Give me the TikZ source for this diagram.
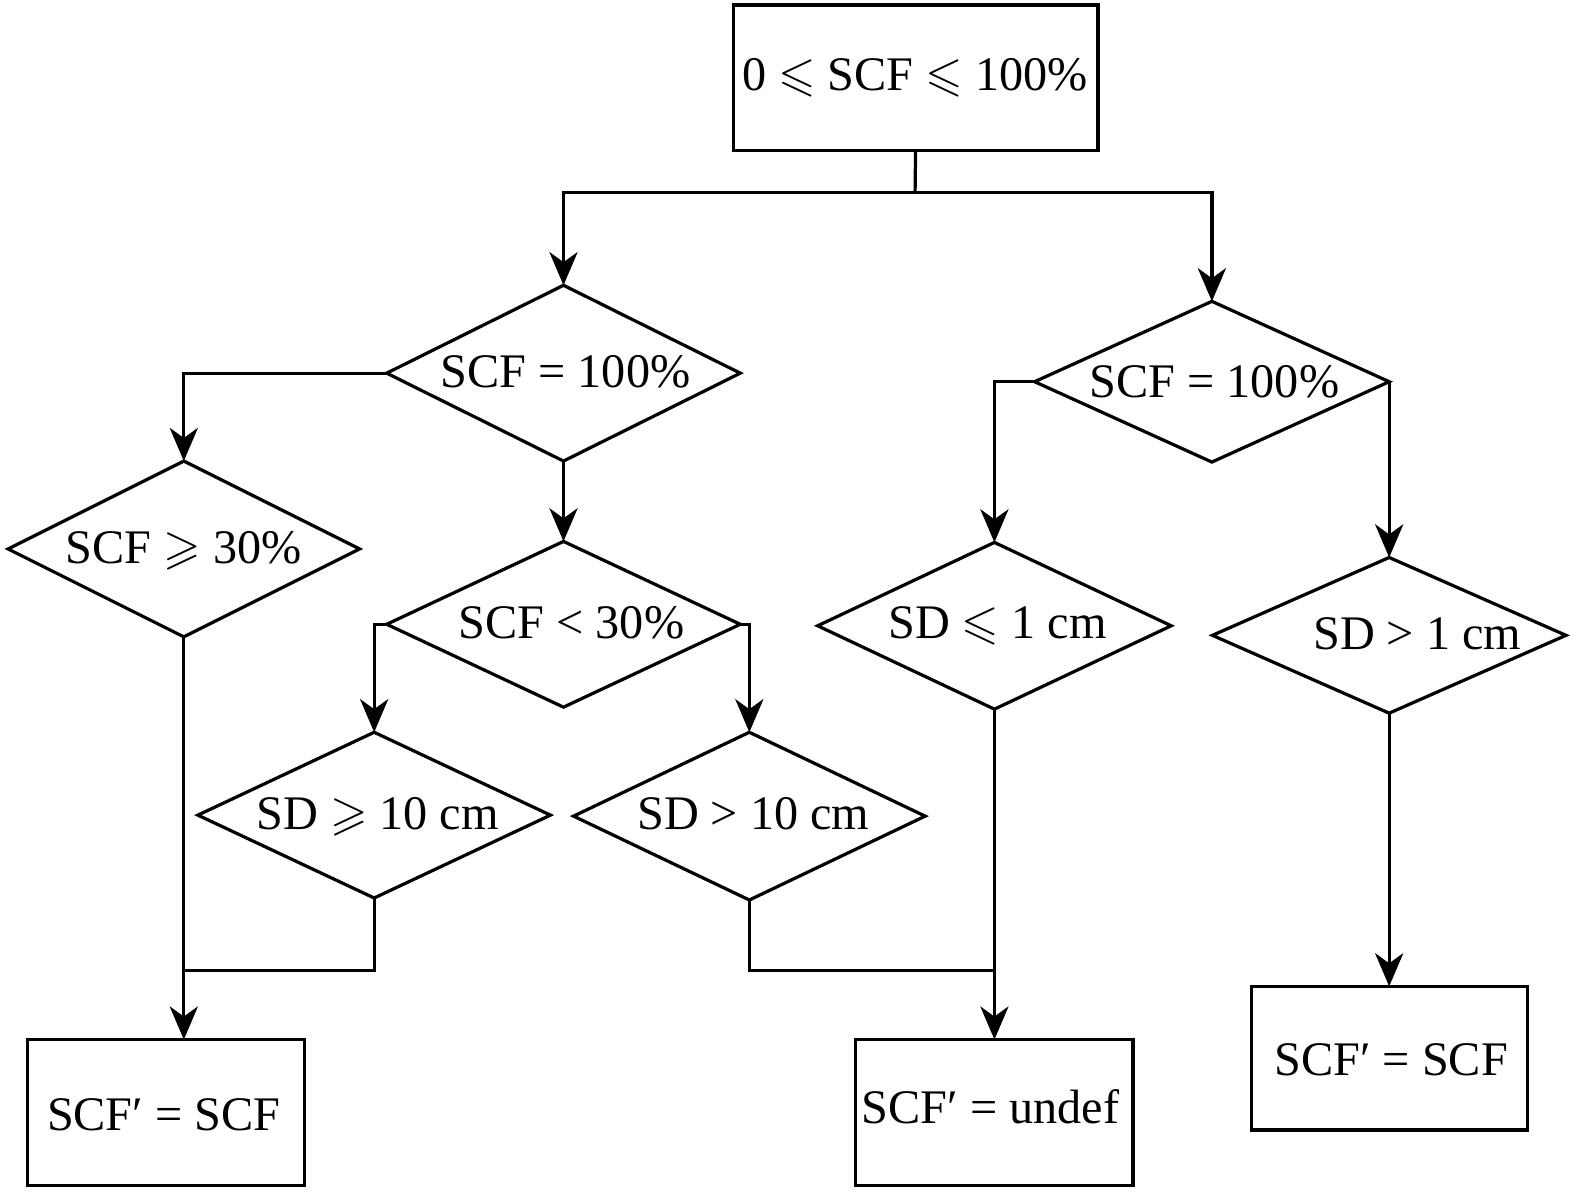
\documentclass[tikz,border=0pt]{standalone}
\usepackage{amssymb}
\usepackage{fontspec}
\setmainfont{Liberation Serif}
\usetikzlibrary{shapes.geometric,arrows.meta}
\begin{document}
\begin{tikzpicture}[x=1pt,y=-1pt,line width=3.2pt,
  dia/.style 2 args={diamond,draw,inner sep=0pt,outer sep=0pt,minimum width=#1,minimum height=#2},
  box/.style 2 args={rectangle,draw,inner sep=0pt,outer sep=0pt,minimum width=#1,minimum height=#2},
  txt/.style={anchor=base,inner sep=0pt,font=\fontsize{48}{56}\selectfont},
  arr/.style={-{Stealth[length=33pt,width=28pt,inset=10pt]}}]
\useasboundingbox (0,0) rectangle (1568,1186);
% boxes
\node[box={363}{145}] (top) at (911.5,77.5) {};
\node[box={276}{145}] (b1) at (165,1107.5) {};
\node[box={276}{145}] (b2) at (990,1107.5) {};
\node[box={275}{143}] (b3) at (1383.5,1053.5) {};
% diamonds
\node[dia={352}{175}] (d1) at (561,371.5) {};
\node[dia={350}{175}] (d2) at (183,546.5) {};
\node[dia={352}{165}] (d3) at (561,621.5) {};
\node[dia={351}{165}] (d4) at (372.5,811.5) {};
\node[dia={350}{167}] (d5) at (746,812.5) {};
\node[dia={352}{166}] (d6) at (990,623) {};
\node[dia={353}{160}] (d7) at (1206.5,380) {};
\node[dia={352}{155}] (d8) at (1383,632.5) {};
% texts
\node[txt] (ttop) at (911,90) {0 $\leqslant$ SCF $\leqslant$ 100\%};
\node[txt] (t1) at (563,386) {SCF = 100\%};
\node[txt] (t2) at (183,561) {SCF $\geqslant$ 30\%};
\node[txt] (t3) at (569,636) {SCF < 30\%};
\node[txt] (t4) at (376,826) {SD $\geqslant$ 10 cm};
\node[txt] (t5) at (750,826) {SD > 10 cm};
\node[txt] (t6) at (993,636) {SD $\leqslant$ 1 cm};
\node[txt] (t7) at (1209,396) {SCF = 100\%};
\node[txt] (t8) at (1411,647) {SD > 1 cm};
\node[txt] (tb1) at (163,1125) {SCF′ = SCF};
\node[txt] (tb2) at (986,1118) {SCF′ = undef};
\node[txt] (tb3) at (1385,1071) {SCF′ = SCF};
% junctions
\coordinate (j0) at (911,192);
\coordinate (ja) at (183,966);
\coordinate (jb) at (990,966);
% connectors
\draw (top.south) -- (j0);
\draw[arr] (j0) -| (d1.north);
\draw[arr] (j0) -| (d7.north);
\draw[arr] (d1.west) -| (d2.north);
\draw[arr] (d1.south) -- (d3.north);
\draw[arr] (d3.west) -| (d4.north);
\draw[arr] (d3.east) -| (d5.north);
\draw[arr] (d2.south) -- (d2.south |- b1.north);
\draw (d4.south) |- (ja);
\draw (d5.south) |- (jb);
\draw[arr] (d6.south) -- (b2.north);
\draw[arr] (d7.west) -| (d6.north);
\draw[arr] (d7.east) -- (d7.east |- d8.north);
\draw[arr] (d8.south) -- (d8.south |- b3.north);
\end{tikzpicture}
\end{document}
